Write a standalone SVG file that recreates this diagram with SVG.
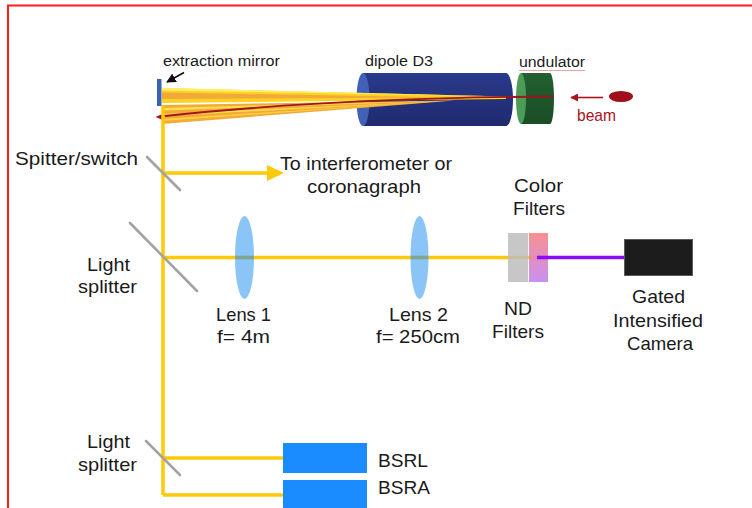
<svg xmlns="http://www.w3.org/2000/svg" width="752" height="508" viewBox="0 0 752 508">
  <defs>
    <style>
      text { font-family: "Liberation Sans", Arial, Helvetica, sans-serif; fill: #1a1a1a; }
      .lbl { font-size: 19px; }
      .sm { font-size: 15.5px; }
      .beamline { stroke: #FFC905; stroke-width: 3.5; fill: none; }
      .splitter { stroke: #A3A3A3; stroke-width: 2.6; stroke-linecap: round; }
      .lens { fill: #8BC5F8; }
      .lensx { fill: #7FA58C; }
    </style>
    <linearGradient id="colorFilter" x1="0" y1="0" x2="0" y2="1">
      <stop offset="0" stop-color="#F98484"/>
      <stop offset="1" stop-color="#C384F0"/>
    </linearGradient>
    <linearGradient id="dipoleBody" x1="0" y1="0" x2="0" y2="1">
      <stop offset="0" stop-color="#2A3A8C"/>
      <stop offset="0.5" stop-color="#24317C"/>
      <stop offset="1" stop-color="#1F2A70"/>
    </linearGradient>
    <linearGradient id="undBody" x1="0" y1="0" x2="0" y2="1">
      <stop offset="0" stop-color="#226030"/>
      <stop offset="1" stop-color="#1A4E26"/>
    </linearGradient>
    <marker id="blackHead" viewBox="0 0 10 10" refX="9" refY="5" markerWidth="6" markerHeight="6" orient="auto">
      <path d="M0,0 L10,5 L0,10 Z" fill="#111"/>
    </marker>
    <marker id="redHead" viewBox="0 0 10 10" refX="9" refY="5" markerWidth="5" markerHeight="5" orient="auto">
      <path d="M0,0 L10,5 L0,10 Z" fill="#A8141E"/>
    </marker>
  </defs>

  <rect width="752" height="508" fill="#ffffff"/>
  <!-- page frame -->
  <rect x="8" y="5.5" width="800" height="600" fill="none" stroke="#FF1A1A" stroke-width="2"/>

  <!-- dipole magnet -->
  <g id="dipole">
    <path d="M363,73 L506,73 A7,26.5 0 0 1 506,126 L363,126 Z" fill="url(#dipoleBody)"/>
    <ellipse cx="363" cy="99.5" rx="6.5" ry="26.5" fill="#4262B8"/>
    <text class="sm" x="365" y="66" textLength="68" lengthAdjust="spacingAndGlyphs">dipole D3</text>
  </g>

  <!-- undulator -->
  <g id="undulator">
    <path d="M521,73 L550,73 A4,25.5 0 0 1 550,124 L521,124 Z" fill="url(#undBody)"/>
    <ellipse cx="521" cy="98.5" rx="5" ry="25.5" fill="#4C9C58"/>
    <text class="sm" x="519" y="67" textLength="66" lengthAdjust="spacingAndGlyphs">undulator</text>
    <line x1="519" y1="70.5" x2="585" y2="70.5" stroke="#E9A3AB" stroke-width="1"/>
  </g>

  <!-- synchrotron light fan from the dipole to the mirror -->
  <g id="light-fan">
    <polygon points="162,105 455,100.5 162,124" fill="#F2AA3A"/>
    <polygon points="162,108 455,100.5 162,110.5" fill="#FFE04A"/>
    <polygon points="162,114 440,101.5 162,116" fill="#FFE04A"/>
    <polygon points="162,119 430,102 162,121" fill="#FFD43A"/>
    <polygon points="162,88 506,96.5 506,99 162,103" fill="#FFD21F"/>
    <polygon points="162,92.5 450,97.5 162,99" fill="#F2A93B"/>
    <polygon points="162,88 506,96.5 162,90.5" fill="#FFEE6A"/>
    <!-- electron trajectory -->
    <path d="M160,116.5 Q330,98 553,96.5" fill="none" stroke="#A0141E" stroke-width="1.8"/>
    <polygon points="155.5,117 163,113.8 163,120" fill="#A0141E"/>
  </g>

  <!-- extraction mirror -->
  <g id="extraction-mirror">
    <rect x="157" y="79" width="4.5" height="27" fill="#3A62B0"/>
    <text class="sm" x="163" y="66" textLength="117" lengthAdjust="spacingAndGlyphs">extraction  mirror</text>
    <line x1="184" y1="72.5" x2="167" y2="82" stroke="#111" stroke-width="1.6" marker-end="url(#blackHead)"/>
  </g>

  <!-- electron beam -->
  <g id="beam">
    <ellipse cx="621" cy="96.5" rx="12" ry="5.5" fill="#A0101A"/>
    <line x1="603" y1="97.5" x2="571" y2="97.5" stroke="#A8141E" stroke-width="1.6" marker-end="url(#redHead)"/>
    <text x="577" y="121" font-size="17" textLength="39" lengthAdjust="spacingAndGlyphs" style="fill:#A8141E">beam</text>
  </g>

  <!-- optical paths -->
  <g id="connectors">
    <line class="beamline" x1="163" y1="106" x2="163" y2="495"/>
    <path class="beamline" d="M163,495 L283,495"/>
    <line class="beamline" x1="163" y1="458" x2="283" y2="458"/>
    <line class="beamline" x1="163" y1="173" x2="268" y2="173"/>
    <polygon points="267,165 284,173 267,181" fill="#FFC905"/>
    <line class="beamline" x1="163" y1="257.5" x2="537" y2="257.5"/>
    <line x1="537" y1="257.5" x2="625" y2="257.5" stroke="#8A0EF5" stroke-width="3.5"/>
  </g>

  <!-- splitters -->
  <g id="splitter-switch">
    <line class="splitter" x1="147" y1="157" x2="180" y2="190"/>
    <text class="lbl" x="15" y="165" textLength="123" lengthAdjust="spacingAndGlyphs">Spitter/switch</text>
  </g>
  <g id="interferometer-port">
    <text class="lbl" x="280" y="170" textLength="172" lengthAdjust="spacingAndGlyphs">To interferometer or</text>
    <text class="lbl" x="307" y="193" textLength="114" lengthAdjust="spacingAndGlyphs">coronagraph</text>
  </g>
  <g id="light-splitter-1">
    <line class="splitter" x1="130" y1="223" x2="197" y2="291"/>
    <text class="lbl" x="87" y="271" textLength="43" lengthAdjust="spacingAndGlyphs">Light</text>
    <text class="lbl" x="78" y="293" textLength="59" lengthAdjust="spacingAndGlyphs">splitter</text>
  </g>
  <g id="light-splitter-2">
    <line class="splitter" x1="146" y1="441" x2="180" y2="475"/>
    <text class="lbl" x="87" y="448" textLength="43" lengthAdjust="spacingAndGlyphs">Light</text>
    <text class="lbl" x="78" y="471" textLength="59" lengthAdjust="spacingAndGlyphs">splitter</text>
  </g>

  <!-- lenses -->
  <g id="lens-1">
    <ellipse class="lens" cx="244.5" cy="257.5" rx="9.5" ry="41.5"/>
    <rect class="lensx" x="235.2" y="255.7" width="18.6" height="3.6"/>
    <text class="lbl" x="216" y="321" textLength="55" lengthAdjust="spacingAndGlyphs">Lens 1</text>
    <text class="lbl" x="217" y="343" textLength="53" lengthAdjust="spacingAndGlyphs">f= 4m</text>
  </g>
  <g id="lens-2">
    <ellipse class="lens" cx="419.5" cy="257.5" rx="9" ry="41.5"/>
    <rect class="lensx" x="410.7" y="255.7" width="17.6" height="3.6"/>
    <text class="lbl" x="389" y="321" textLength="59" lengthAdjust="spacingAndGlyphs">Lens 2</text>
    <text class="lbl" x="376" y="343" textLength="84" lengthAdjust="spacingAndGlyphs">f= 250cm</text>
  </g>

  <!-- filters -->
  <g id="nd-filter">
    <rect x="508" y="233" width="20" height="49" fill="#BDBDBD" fill-opacity="0.85"/>
    <text class="lbl" x="504" y="315" textLength="28" lengthAdjust="spacingAndGlyphs">ND</text>
    <text class="lbl" x="492" y="338" textLength="52" lengthAdjust="spacingAndGlyphs">Filters</text>
  </g>
  <g id="color-filter">
    <rect x="529" y="233" width="19" height="49" fill="url(#colorFilter)" fill-opacity="0.9"/>
    <line x1="537" y1="257.5" x2="548" y2="257.5" stroke="#8A0EF5" stroke-width="3.5"/>
    <text class="lbl" x="514" y="192" textLength="49" lengthAdjust="spacingAndGlyphs">Color</text>
    <text class="lbl" x="513" y="215" textLength="52" lengthAdjust="spacingAndGlyphs">Filters</text>
  </g>

  <!-- camera -->
  <g id="camera">
    <rect x="624.5" y="239.5" width="68" height="36" fill="#1C1C1C" stroke="#5A5A5A" stroke-width="1"/>
    <text class="lbl" x="632" y="303" textLength="53" lengthAdjust="spacingAndGlyphs">Gated</text>
    <text class="lbl" x="613" y="327" textLength="90" lengthAdjust="spacingAndGlyphs">Intensified</text>
    <text class="lbl" x="627" y="350" textLength="66" lengthAdjust="spacingAndGlyphs">Camera</text>
  </g>

  <!-- beam size monitors -->
  <g id="bsrl">
    <rect x="283" y="443" width="84" height="30" fill="#1A8CFF"/>
    <text class="lbl" x="378" y="467" textLength="50" lengthAdjust="spacingAndGlyphs">BSRL</text>
  </g>
  <g id="bsra">
    <rect x="283" y="480" width="84" height="40" fill="#1A8CFF"/>
    <text class="lbl" x="378" y="494" textLength="52" lengthAdjust="spacingAndGlyphs">BSRA</text>
  </g>
</svg>
